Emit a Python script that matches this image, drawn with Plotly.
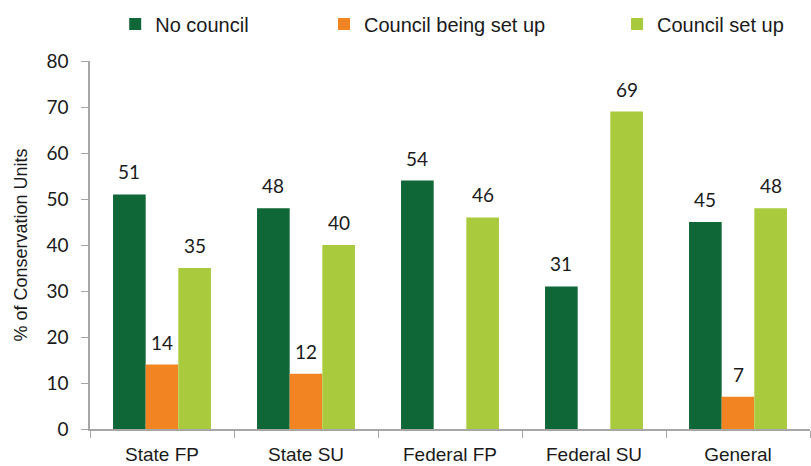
import plotly.graph_objects as go

categories = ["State FP", "State SU", "Federal FP", "Federal SU", "General"]
no_council = [51, 48, 54, 31, 45]
being_set_up = [14, 12, None, None, 7]
set_up = [35, 40, 46, 69, 48]

series = [
    ("No council", no_council, "#0f6636", "legend"),
    ("Council being set up", being_set_up, "#f28522", "legend2"),
    ("Council set up", set_up, "#a8ca3c", "legend3"),
]

bargap = 0.32
bar_w = (1 - bargap) / 3

fig = go.Figure()
for name, vals, color, leg in series:
    fig.add_trace(go.Bar(
        x=categories, y=vals, name=name, legend=leg,
        marker=dict(color=color, line=dict(width=0)),
    ))

# value labels sitting a bit above each bar
for j, (name, vals, color, leg) in enumerate(series):
    for i, v in enumerate(vals):
        if v is None:
            continue
        fig.add_annotation(
            x=i + (j - 1) * bar_w, y=v, text=str(v),
            showarrow=False, yanchor="bottom", yshift=9,
            font=dict(family="Lato", size=19, color="#1a1a1a"),
        )

axis_col = "#a6a6a6"
leg_common = dict(orientation="h", yanchor="middle", y=1.1005, xanchor="left",
                  font=dict(family="Liberation Sans, Arial", size=20, color="#1a1a1a"),
                  bgcolor="rgba(0,0,0,0)")

fig.update_layout(
    width=811, height=466,
    margin=dict(l=90, r=1, t=61, b=37),
    paper_bgcolor="white", plot_bgcolor="white",
    barmode="group", bargap=bargap, bargroupgap=0,
    showlegend=True,
    legend=dict(x=0.035, **leg_common),
    legend2=dict(x=0.325, **leg_common),
    legend3=dict(x=0.732, **leg_common),
    xaxis=dict(
        tickson="boundaries", ticks="outside", ticklen=7, tickcolor=axis_col,
        showline=True, linecolor=axis_col, linewidth=1.5, ticklabelstandoff=7,
        tickfont=dict(family="Liberation Sans, Arial", size=19, color="#1a1a1a"),
        automargin=False,
    ),
    yaxis=dict(
        range=[0, 80], dtick=10, ticks="outside", ticklen=7, tickcolor=axis_col,
        showline=True, linecolor=axis_col, linewidth=1.5, showgrid=False,
        zeroline=False, ticklabelstandoff=9,
        tickfont=dict(family="Lato", size=19, color="#1a1a1a"),
        title=dict(text="% of Conservation Units", standoff=14,
                   font=dict(family="Liberation Sans, Arial", size=18, color="#1a1a1a")),
        automargin=False,
    ),
)

# drop the page's default body margin so the figure sits at the window origin
fig.write_html("out.html", config={"displayModeBar": False},
               post_script="document.body.style.margin='0';")
